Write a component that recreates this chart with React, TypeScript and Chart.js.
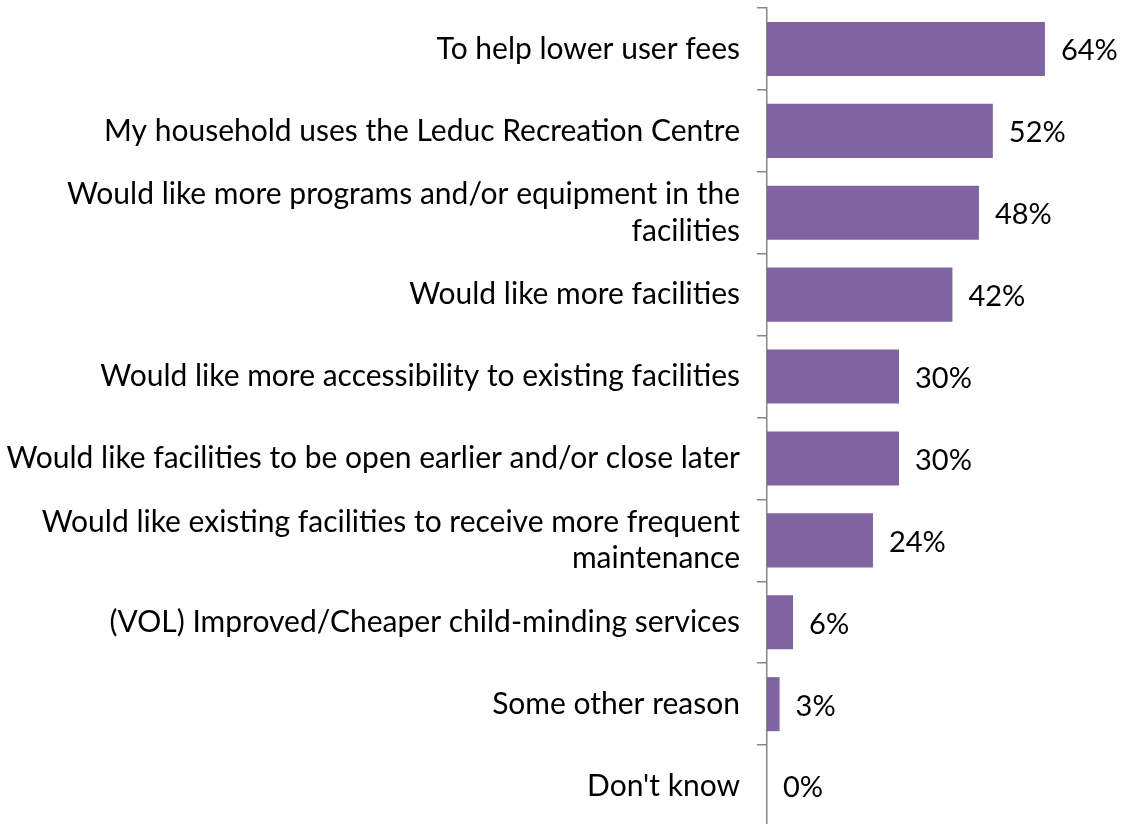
import React, { useEffect, useRef } from "react";
import { Chart, registerables } from "chart.js";

Chart.register(...registerables);

const categories: (string | string[])[] = [
  "To help lower user fees",
  "My household uses the Leduc Recreation Centre",
  ["Would like more programs and/or equipment in the", "facilities"],
  "Would like more facilities",
  "Would like more accessibility to existing facilities",
  "Would like facilities to be open earlier and/or close later",
  ["Would like existing facilities to receive more frequent", "maintenance"],
  "(VOL) Improved/Cheaper child-minding services",
  "Some other reason",
  "Don't know",
];

const values = [64, 52, 48.8, 42.7, 30.4, 30.4, 24.4, 6, 2.9, 0];
const valueLabels = ["64%", "52%", "48%", "42%", "30%", "30%", "24%", "6%", "3%", "0%"];

const FONT = "Lato, 'Open Sans', sans-serif";
const FONT_SIZE = 30;

export default function App() {
  const ref = useRef<HTMLCanvasElement | null>(null);

  useEffect(() => {
    if (!ref.current) return;
    const valueLabelPlugin = {
      id: "valueLabels",
      afterDatasetsDraw(chart: any) {
        const ctx = chart.ctx;
        const meta = chart.getDatasetMeta(0);
        ctx.save();
        ctx.font = `${FONT_SIZE - 1}px ${FONT}`;
        ctx.fillStyle = "#000000";
        ctx.textAlign = "left";
        ctx.textBaseline = "middle";
        meta.data.forEach((bar: any, i: number) => {
          ctx.fillText(valueLabels[i], bar.x + 16, bar.y + 2);
        });
        ctx.restore();
      },
    };

    const chart = new Chart(ref.current, {
      type: "bar",
      data: {
        labels: categories,
        datasets: [
          {
            data: values,
            backgroundColor: "#8064A2",
            borderWidth: 0,
            barPercentage: 0.66,
            categoryPercentage: 1,
          },
        ],
      },
      options: {
        indexAxis: "y",
        animation: false,
        responsive: false,
        maintainAspectRatio: false,
        layout: { padding: { top: 8, bottom: 8, right: 50, left: 0 } },
        plugins: {
          legend: { display: false },
          tooltip: { enabled: false },
        },
        scales: {
          x: {
            display: false,
            min: 0,
            max: 70,
          },
          y: {
            afterFit(scale: any) {
              scale.width = 767;
              scale.paddingTop = 0;
              scale.paddingBottom = 0;
            },
            grid: {
              display: true,
              drawOnChartArea: false,
              drawTicks: true,
              tickLength: 10,
              offset: true,
              color: "#868686",
              lineWidth: 1.5,
            },
            border: { display: true, color: "#868686", width: 1.5 },
            ticks: {
              padding: 17,
              color: "#000000",
              font: { family: FONT, size: FONT_SIZE, lineHeight: 1.23 },
              autoSkip: false,
            },
          },
        },
      },
      plugins: [valueLabelPlugin],
    });
    return () => chart.destroy();
  }, []);

  return (
    <canvas
      ref={ref}
      width={1121}
      height={835}
      style={{ position: "absolute", left: 0, top: 0, width: 1121, height: 835, background: "#ffffff" }}
    />
  );
}
